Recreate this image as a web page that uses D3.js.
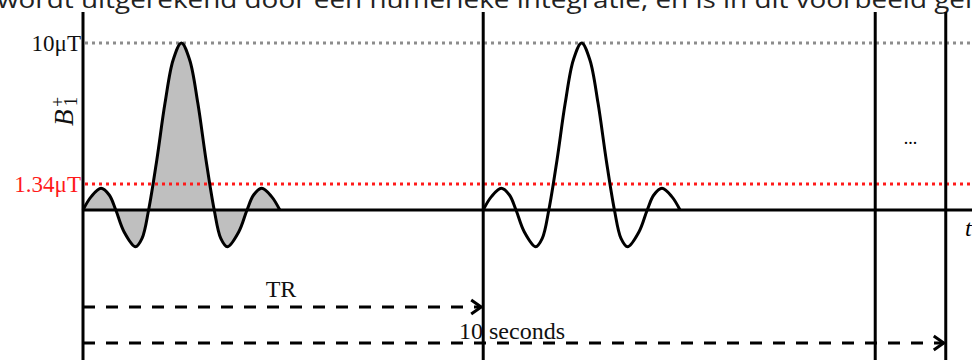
<!DOCTYPE html>
<html>
<head>
<meta charset="utf-8">
<script src="https://cdn.jsdelivr.net/npm/d3@7"></script>
<style>
body { margin: 0; background: #fff; }
svg { display: block; }
</style>
</head>
<body>
<div id="chart"></div>
<script>
// pulse shape (t in lobe widths, B1 in uT)
var pulseT = [0, 0.25, 0.55, 0.8, 1, 1.25, 1.6, 1.8, 2, 2.25, 2.5, 2.75, 3,
              3.25, 3.5, 3.75, 4, 4.2, 4.4, 4.75, 5, 5.2, 5.45, 5.75, 6];
var pulseB = [0, 0.8, 1.3, 0.9, 0, -1.3, -2.2, -1.7, 0, 3.0, 6.4, 9.0, 10,
              9.0, 6.4, 3.0, 0, -1.7, -2.2, -1.3, 0, 0.9, 1.3, 0.8, 0];
var pulseStarts = [0, 12.2];

// reference levels
var levelValues = [10, 1.55];
var levelLabels = ["10\u03bcT", "1.34\u03bcT"];
var levelColors = ["#8c8c8c", "#ff1a1a"];

// vertical time markers
var markerTimes = [0, 12.2, 24.15, 26.3];

// interval arrows
var arrowEnds = [12.2, 26.3];
var arrowLabels = ["TR", "10 seconds"];

var width = 972, height = 360;
var svg = d3.select("#chart").append("svg")
    .attr("width", width)
    .attr("height", height);

var x = d3.scaleLinear().domain([0, 27.1]).range([83, 972]);
var y = d3.scaleLinear().domain([0, 10]).range([210, 43]);

var pulse = pulseT.map(function(t, i){ return {t: t, b: pulseB[i]}; });

// cut-off line of text from the page above
svg.append("text")
    .attr("x", -3)
    .attr("y", 8)
    .attr("textLength", 975)
    .attr("lengthAdjust", "spacingAndGlyphs")
    .style("font-family", "'Open Sans', sans-serif")
    .style("font-size", "24px")
    .style("fill", "#222")
    .text("wordt uitgerekend door een numerieke integratie, en is in dit voorbeeld gel");

// shaded area of first pulse
svg.append("path")
    .datum(pulse)
    .attr("d", d3.area()
        .x(function(d){ return x(d.t + pulseStarts[0]); })
        .y0(y(0))
        .y1(function(d){ return y(d.b); })
        .curve(d3.curveCatmullRom))
    .style("fill", "#bfbfbf");

// dotted level lines
svg.selectAll(".level")
    .data(levelValues)
    .enter()
    .append("line")
        .attr("x1", x(0) + 2)
        .attr("x2", width)
        .attr("y1", function(d){ return y(d); })
        .attr("y2", function(d){ return y(d); })
        .style("stroke", function(d, i){ return levelColors[i]; })
        .style("stroke-width", 3)
        .style("stroke-dasharray", "3,4");

svg.selectAll(".levelLabel")
    .data(levelValues)
    .enter()
    .append("text")
        .text(function(d, i){ return levelLabels[i]; })
        .attr("x", x(0) - 2)
        .attr("y", function(d){ return y(d) + 8; })
        .attr("text-anchor", "end")
        .style("font-family", "'Liberation Serif', serif")
        .style("font-size", "23px")
        .style("fill", function(d, i){ return i == 0 ? "#111" : levelColors[i]; });

// time axis
svg.append("line")
    .attr("x1", x(0))
    .attr("x2", width)
    .attr("y1", y(0))
    .attr("y2", y(0))
    .style("stroke", "#000")
    .style("stroke-width", 3);

// vertical markers
svg.selectAll(".marker")
    .data(markerTimes)
    .enter()
    .append("line")
        .attr("x1", function(d){ return x(d); })
        .attr("x2", function(d){ return x(d); })
        .attr("y1", 12)
        .attr("y2", height)
        .style("stroke", "#000")
        .style("stroke-width", 3);

// pulses
var line = d3.line()
    .x(function(d){ return d.x; })
    .y(function(d){ return y(d.b); })
    .curve(d3.curveCatmullRom);

svg.selectAll(".pulse")
    .data(pulseStarts)
    .enter()
    .append("path")
        .attr("d", function(s){
            return line(pulse.map(function(d){ return {x: x(s + d.t), b: d.b}; }));
        })
        .style("fill", "none")
        .style("stroke", "#000")
        .style("stroke-width", 3)
        .style("stroke-linejoin", "round");

// y label B1+
var yl = svg.append("g").attr("transform", "translate(73,126) rotate(-90)");
yl.append("text")
    .attr("x", 0).attr("y", 0)
    .style("font-family", "'Liberation Serif', serif")
    .style("font-style", "italic")
    .style("font-size", "27px")
    .style("fill", "#111")
    .text("B");
yl.append("text")
    .attr("x", 19).attr("y", -9)
    .style("font-family", "'Liberation Serif', serif")
    .style("font-size", "18px")
    .style("fill", "#111")
    .text("+");
yl.append("text")
    .attr("x", 20).attr("y", 4)
    .style("font-family", "'Liberation Serif', serif")
    .style("font-size", "18px")
    .style("fill", "#111")
    .text("1");

// dots in the gap
svg.append("text")
    .attr("x", x((markerTimes[2] + markerTimes[3]) / 2))
    .attr("y", 144)
    .attr("text-anchor", "middle")
    .style("font-family", "'Liberation Serif', serif")
    .style("font-size", "18px")
    .text("...");

// t axis label
svg.append("text")
    .attr("x", 965)
    .attr("y", 236)
    .style("font-family", "'Liberation Serif', serif")
    .style("font-style", "italic")
    .style("font-size", "24px")
    .text("t");

// interval arrows
var arrowY = [307, 343];
svg.selectAll(".arrow")
    .data(arrowEnds)
    .enter()
    .append("line")
        .attr("x1", x(0))
        .attr("x2", function(d){ return x(d) - 2; })
        .attr("y1", function(d, i){ return arrowY[i]; })
        .attr("y2", function(d, i){ return arrowY[i]; })
        .style("stroke", "#000")
        .style("stroke-width", 3)
        .style("stroke-dasharray", "12,11");

svg.selectAll(".head")
    .data(arrowEnds)
    .enter()
    .append("path")
        .attr("d", function(d, i){
            var ex = x(d) - 2, ey = arrowY[i];
            return "M" + (ex - 10) + "," + (ey - 7) + "L" + ex + "," + ey + "L" + (ex - 10) + "," + (ey + 7);
        })
        .style("fill", "none")
        .style("stroke", "#000")
        .style("stroke-width", 3);

svg.append("text")
    .attr("x", 281)
    .attr("y", 297)
    .attr("text-anchor", "middle")
    .style("font-family", "'Liberation Serif', serif")
    .style("font-size", "24px")
    .style("fill", "#111")
    .text(arrowLabels[0]);

svg.append("text")
    .attr("x", 459)
    .attr("y", 339)
    .style("font-family", "'Liberation Serif', serif")
    .style("font-size", "24px")
    .style("fill", "#111")
    .text(arrowLabels[1]);
</script>
</body>
</html>
